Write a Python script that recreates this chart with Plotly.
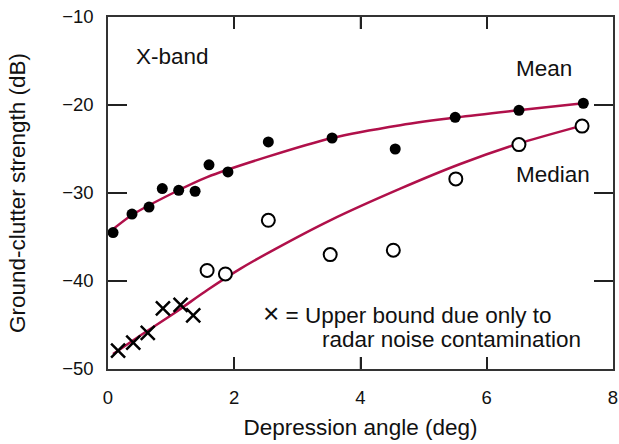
import plotly.graph_objects as go

# Mean (filled circles)
mean_x = [0.08, 0.38, 0.65, 0.86, 1.12, 1.38, 1.60, 1.90, 2.54, 3.55, 4.55, 5.50, 6.51, 7.53]
mean_y = [-34.5, -32.4, -31.6, -29.5, -29.7, -29.8, -26.8, -27.6, -24.2, -23.75, -25.0, -21.4, -20.6, -19.8]

# Median (open circles)
med_x = [1.57, 1.86, 2.54, 3.52, 4.52, 5.51, 6.51, 7.51]
med_y = [-38.8, -39.2, -33.1, -37.0, -36.5, -28.4, -24.5, -22.4]

# Upper bound (x markers)
ub_x = [0.16, 0.40, 0.63, 0.87, 1.15, 1.35]
ub_y = [-47.9, -47.0, -45.9, -43.1, -42.7, -43.9]

# Fitted curves
mean_fit_x = [0.03, 0.38, 1.03, 1.57, 2.52, 3.55, 4.63, 5.53, 6.50, 7.53]
mean_fit_y = [-34.4, -32.5, -30.0, -28.2, -25.9, -23.75, -22.3, -21.4, -20.6, -19.8]
med_fit_x = [0.08, 0.53, 1.06, 1.58, 2.10, 2.64, 3.52, 4.63, 5.58, 6.50, 7.48]
med_fit_y = [-48.3, -46.1, -43.6, -41.0, -38.6, -36.4, -33.1, -29.5, -26.7, -24.4, -22.4]

x_ticks = [0, 2, 4, 6, 8]
y_ticks = [-50, -40, -30, -20, -10]

CURVE = "#B0104A"
FONT = "Liberation Sans"
X_RANGE = [0, 8]
Y_RANGE = [-50, -10]

fig = go.Figure()
for fx, fy in ((mean_fit_x, mean_fit_y), (med_fit_x, med_fit_y)):
    fig.add_trace(go.Scatter(x=fx, y=fy, mode="lines",
                             line=dict(color=CURVE, width=2.5, shape="spline", smoothing=0.8),
                             hoverinfo="skip", showlegend=False))
fig.add_trace(go.Scatter(x=mean_x, y=mean_y, mode="markers", name="Mean",
                         marker=dict(symbol="circle", size=11, color="black"),
                         showlegend=False))
fig.add_trace(go.Scatter(x=med_x, y=med_y, mode="markers", name="Median",
                         marker=dict(symbol="circle", size=13, color="white",
                                     line=dict(color="black", width=2)),
                         showlegend=False))
fig.add_trace(go.Scatter(x=ub_x, y=ub_y, mode="markers", name="Upper bound",
                         marker=dict(symbol="x-thin", size=14, color="black",
                                     line=dict(color="black", width=2.5)),
                         showlegend=False))

# Inside tick marks on all four sides, placed at the tick values
tick_line = dict(color="#222", width=1.5)
for yv in y_ticks[1:-1]:
    fig.add_shape(type="line", xref="x", yref="y", xsizemode="pixel", xanchor=X_RANGE[0],
                  x0=0, x1=19, y0=yv, y1=yv, line=tick_line, layer="above")
    fig.add_shape(type="line", xref="x", yref="y", xsizemode="pixel", xanchor=X_RANGE[1],
                  x0=-19, x1=0, y0=yv, y1=yv, line=tick_line, layer="above")
for xv in x_ticks[1:-1]:
    fig.add_shape(type="line", xref="x", yref="y", ysizemode="pixel", yanchor=Y_RANGE[0],
                  y0=0, y1=12, x0=xv, x1=xv, line=tick_line, layer="above")
    fig.add_shape(type="line", xref="x", yref="y", ysizemode="pixel", yanchor=Y_RANGE[1],
                  y0=-12, y1=0, x0=xv, x1=xv, line=tick_line, layer="above")

txt = dict(family=FONT, size=22.5, color="#111")
fig.add_annotation(x=0.41, y=-14.45, text="X-band", showarrow=False, xanchor="left",
                   yanchor="middle", font=txt)
fig.add_annotation(x=6.43, y=-15.8, text="Mean", showarrow=False, xanchor="left",
                   yanchor="middle", font=txt)
fig.add_annotation(x=6.43, y=-27.9, text="Median", showarrow=False, xanchor="left",
                   yanchor="middle", font=txt)
fig.add_annotation(x=2.43, y=-43.7,
                   text="<span style='font-size:28px'>\u00d7</span> = Upper bound due only to",
                   showarrow=False, xanchor="left", yanchor="middle", font=txt)
fig.add_annotation(x=7.53, y=-46.7, text="radar noise contamination", showarrow=False,
                   xanchor="right", yanchor="middle", font=txt)

fig.update_layout(
    width=619, height=444,
    margin=dict(l=108, r=6, t=17, b=75),
    plot_bgcolor="white", paper_bgcolor="white",
    font=dict(family=FONT, size=18.5, color="#111"),
    xaxis=dict(range=X_RANGE, tickvals=x_ticks, ticks="inside", ticklen=12, tickwidth=1.5,
               tickcolor="#222", showline=True, linecolor="#333", linewidth=1.5, mirror="ticks",
               showgrid=False, zeroline=False, ticklabelstandoff=11, automargin=False,
               ticklabeloverflow="allow",
               title=dict(text="Depression angle (deg)", font=dict(size=22.5), standoff=12),
               tickfont=dict(size=18.5)),
    yaxis=dict(range=Y_RANGE, tickvals=y_ticks, ticks="inside", ticklen=19, tickwidth=1.5,
               tickcolor="#222", showline=True, linecolor="#333", linewidth=1.5, mirror="ticks",
               showgrid=False, zeroline=False, ticklabelstandoff=9, automargin=False,
               ticklabeloverflow="allow",
               title=dict(text="Ground-clutter strength (dB)", font=dict(size=22.5), standoff=30),
               tickfont=dict(size=18.5)),
)

fig.write_html("out.html", config={"displayModeBar": False},
               post_script="document.body.style.margin='0';")
